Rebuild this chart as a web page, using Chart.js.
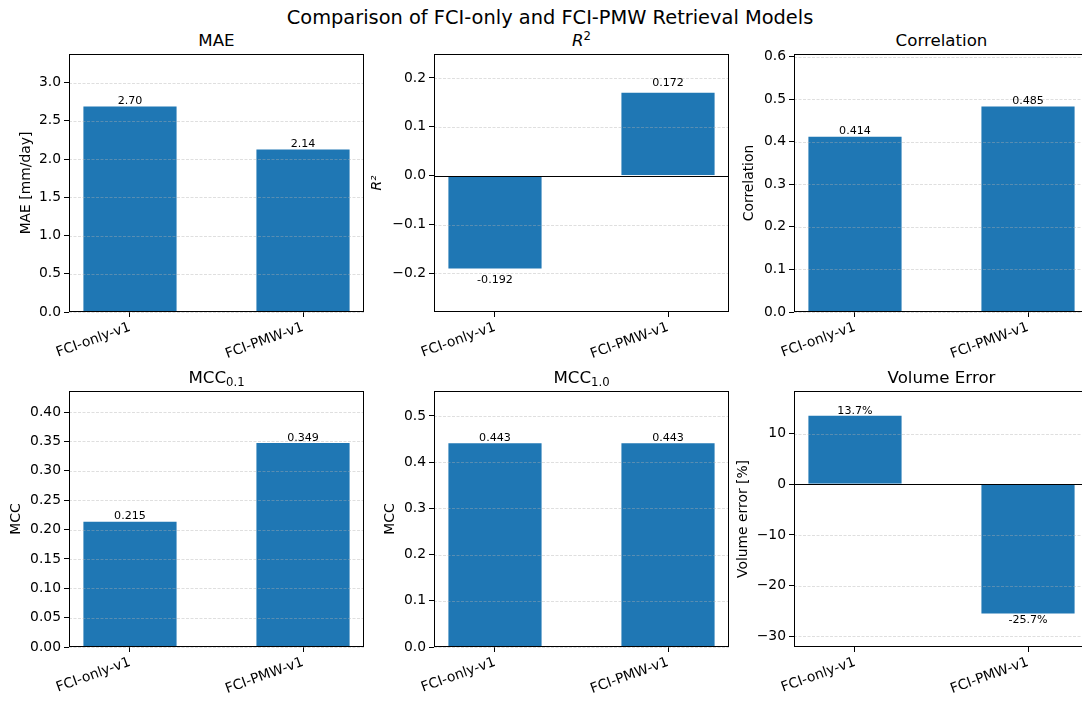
<!DOCTYPE html>
<html>
<head>
<meta charset="utf-8">
<script src="https://cdn.jsdelivr.net/npm/chart.js@4.4.1/dist/chart.umd.min.js"></script>
<style>
  html, body { margin: 0; padding: 0; background: #fff; overflow: hidden; }
  #fig { position: relative; width: 1082px; height: 702px; overflow: hidden; background: #fff;
         font-family: 'DejaVu Sans', sans-serif; color: #000; }
  .sup { position: absolute; left: 250px; width: 600px; top: 6px; line-height: 24px;
         font-size: 19.4px; text-align: center; white-space: nowrap; }
  .ttl { position: absolute; width: 300px; line-height: 20px; font-size: 16.67px;
         text-align: center; white-space: nowrap; }
  .ttl sub { font-size: 70%; vertical-align: -0.28em; line-height: 0; }
  .ttl sup { font-size: 70%; vertical-align: 0.55em; line-height: 0; }
  canvas { position: absolute; }
</style>
</head>
<body>
<div id="fig">
  <div class="sup">Comparison of FCI-only and FCI-PMW Retrieval Models</div>
</div>
<script>
// ── Data ──────────────────────────────────────────────────────────────────────
const MODELS = ['FCI-only-v1', 'FCI-PMW-v1'];

const MAE_VALS   = [2.70, 2.14];
const R2_VALS    = [-0.192, 0.172];
const CORR_VALS  = [0.414, 0.485];
const MCC01_VALS = [0.215, 0.349];
const MCC10_VALS = [0.443, 0.443];
const VOL_VALS   = [13.7, -25.7];

const MAE_TICKS   = [0, 0.5, 1.0, 1.5, 2.0, 2.5, 3.0];
const R2_TICKS    = [-0.2, -0.1, 0, 0.1, 0.2];
const CORR_TICKS  = [0, 0.1, 0.2, 0.3, 0.4, 0.5, 0.6];
const MCC01_TICKS = [0, 0.05, 0.10, 0.15, 0.20, 0.25, 0.30, 0.35, 0.40];
const MCC10_TICKS = [0, 0.1, 0.2, 0.3, 0.4, 0.5];
const VOL_TICKS   = [-30, -20, -10, 0, 10];

const FONT = "'DejaVu Sans', sans-serif";
const BLUE = '#1f77b4';

// one entry per subplot
const PANELS = [
  { title: 'MAE', vals: MAE_VALS, ticks: MAE_TICKS, dec: 1, lab: v => v.toFixed(2),
    ylabel: 'MAE [mm/day]', min: 0, max: 3.375, col: 0, row: 0, ypad: 17.7, gap: [1.3, 1] },
  { title: '<i>R</i><sup>2</sup>', vals: R2_VALS, ticks: R2_TICKS, dec: 1, lab: v => v.toFixed(3),
    ylabel: 'R²', yitalic: true, min: -0.279, max: 0.249, col: 1, row: 0, ypad: 4.2, gap: [6, 5], zero: true },
  { title: 'Correlation', vals: CORR_VALS, ticks: CORR_TICKS, dec: 1, lab: v => v.toFixed(3),
    ylabel: 'Correlation', min: 0, max: 0.606, col: 2, row: 0, ypad: 15.7, gap: [1.3, 1] },
  { title: 'MCC<sub>0.1</sub>', vals: MCC01_VALS, ticks: MCC01_TICKS, dec: 2, lab: v => v.toFixed(3),
    ylabel: 'MCC', min: 0, max: 0.436, col: 0, row: 1, ypad: 7.9, gap: [1.3, 1] },
  { title: 'MCC<sub>1.0</sub>', vals: MCC10_VALS, ticks: MCC10_TICKS, dec: 1, lab: v => v.toFixed(3),
    ylabel: 'MCC', min: 0, max: 0.554, col: 1, row: 1, ypad: 17.2, gap: [1.3, 1] },
  { title: 'Volume Error', vals: VOL_VALS, ticks: VOL_TICKS, dec: 0, lab: v => v.toFixed(1) + '%',
    ylabel: 'Volume error [%]', min: -32.1, max: 18.4, col: 2, row: 1, ypad: 10, gap: [1, 0], zero: true },
];

const COL_CANVAS = [0, 365, 725];   // canvas left edge per column
const AXIS_W = 69;                  // y-axis box width → plot left = canvas left + 69
const PLOT_W = 295;
const ROWS = [{ top: 54, bottom: 312, title: 31 }, { top: 391, bottom: 647, title: 367.5 }];
const PAD_TOP = 20, XAXIS_H = 60;

const tickFmt = (v, dec) => v.toFixed(dec).replace('-', '\u2212');

// grid over bars, zero line, full frame and value labels
const panelDeco = {
  id: 'panelDeco',
  afterDatasetsDraw(chart, args, o) {
    const { ctx, chartArea: a, scales: { y } } = chart;
    ctx.save();
    ctx.strokeStyle = 'rgba(176,176,176,0.5)';
    ctx.lineWidth = 0.8;
    ctx.setLineDash([3, 1.5]);
    y.ticks.forEach(t => {
      const py = Math.round(y.getPixelForValue(t.value)) + 0.5;
      ctx.beginPath(); ctx.moveTo(a.left, py); ctx.lineTo(a.right, py); ctx.stroke();
    });
    ctx.setLineDash([]);
    if (o.zero) {
      const py = Math.round(y.getPixelForValue(0)) + 0.5;
      ctx.strokeStyle = '#000'; ctx.lineWidth = 1;
      ctx.beginPath(); ctx.moveTo(a.left, py); ctx.lineTo(a.right, py); ctx.stroke();
    }
    ctx.strokeStyle = '#000'; ctx.lineWidth = 1;
    ctx.strokeRect(Math.round(a.left) + 0.5, Math.round(a.top) + 0.5,
                   Math.round(a.right - a.left) - 1, Math.round(a.bottom - a.top) - 1);

    ctx.fillStyle = '#000';
    ctx.font = `11.1px ${FONT}`;
    ctx.textAlign = 'center';
    ctx.textBaseline = 'alphabetic';
    chart.getDatasetMeta(0).data.forEach((bar, i) => {
      const v = o.vals[i];
      const txt = o.lab(v);
      if (v >= 0) ctx.fillText(txt, bar.x, bar.y - o.gap[0]);
      else        ctx.fillText(txt, bar.x, bar.y + o.gap[1] + 8.1);
    });
    ctx.restore();
  }
};

const fig = document.getElementById('fig');

PANELS.forEach(p => {
  const row = ROWS[p.row];
  const cLeft = COL_CANVAS[p.col];
  const plotLeft = cLeft + AXIS_W;

  const t = document.createElement('div');
  t.className = 'ttl';
  t.style.left = (plotLeft + PLOT_W / 2 - 150) + 'px';
  t.style.top = row.title + 'px';
  t.innerHTML = p.title;
  fig.appendChild(t);

  const cv = document.createElement('canvas');
  const h = row.bottom - row.top + PAD_TOP + XAXIS_H;
  const w = AXIS_W + PLOT_W + 2;
  cv.width = w; cv.height = h;
  cv.style.left = cLeft + 'px';
  cv.style.top = (row.top - PAD_TOP) + 'px';
  cv.style.width = w + 'px'; cv.style.height = h + 'px';
  fig.appendChild(cv);

  new Chart(cv, {
    type: 'bar',
    data: {
      datasets: [{
        data: MODELS.map((m, i) => ({ x: i, y: p.vals[i] })),
        backgroundColor: BLUE,
        borderColor: 'rgba(255,255,255,0.35)',
        borderWidth: 1,
        barPercentage: 0.55,
        categoryPercentage: 1,
      }]
    },
    options: {
      responsive: false, animation: false, devicePixelRatio: 1,
      layout: { padding: { top: PAD_TOP, right: 2, bottom: 0, left: 0 } },
      plugins: {
        legend: { display: false }, tooltip: { enabled: false },
        panelDeco: { vals: p.vals, lab: p.lab, gap: p.gap, zero: !!p.zero },
      },
      scales: {
        x: {
          type: 'linear', min: -0.3525, max: 1.3525, offset: false,
          afterBuildTicks: s => { s.ticks = MODELS.map((m, i) => ({ value: i })); },
          afterFit: s => { s.height = XAXIS_H; },
          ticks: {
            callback: v => MODELS[v], autoSkip: false, minRotation: 20, maxRotation: 20,
            color: '#000', font: { family: FONT, size: 13.89 }, padding: 2,
          },
          grid: { offset: false, drawOnChartArea: false, drawTicks: true, tickLength: 5, tickColor: '#000' },
          border: { display: false },
        },
        y: {
          type: 'linear', min: p.min, max: p.max,
          afterBuildTicks: s => { s.ticks = p.ticks.map(v => ({ value: v })); },
          afterFit: s => { s.width = AXIS_W; },
          ticks: {
            callback: v => tickFmt(v, p.dec), autoSkip: false,
            color: '#000', font: { family: FONT, size: 13.89 }, padding: 3,
          },
          grid: { drawOnChartArea: false, drawTicks: true, tickLength: 5, tickColor: '#000' },
          border: { display: false },
          title: {
            display: true, text: p.ylabel, color: '#000',
            font: { family: FONT, size: 13.89, style: p.yitalic ? 'italic' : 'normal' },
            padding: { top: p.ypad, bottom: 0 },
          },
        },
      },
    },
    plugins: [panelDeco],
  });
});
</script>
</body>
</html>
